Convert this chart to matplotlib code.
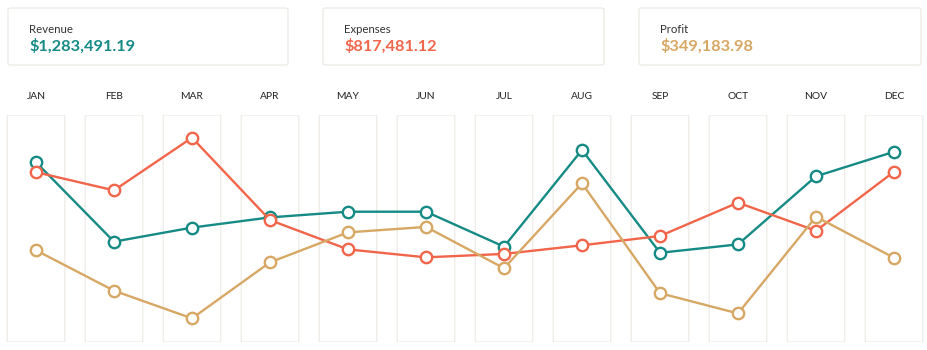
import matplotlib
matplotlib.use("Agg")
import matplotlib.pyplot as plt
from matplotlib.patches import FancyBboxPatch
import matplotlib.transforms as mtransforms

plt.rcParams['font.family'] = ['Lato', 'DejaVu Sans']

months = ["JAN", "FEB", "MAR", "APR", "MAY", "JUN", "JUL", "AUG", "SEP", "OCT", "NOV", "DEC"]
# relative position index (0 = bottom of panel, 100 = top)
revenue = [79.2, 44.2, 50.4, 54.9, 57.4, 57.4, 42.0, 84.6, 39.3, 43.0, 73.0, 83.8]
expenses = [74.8, 66.8, 90.0, 53.7, 40.8, 37.3, 38.8, 42.6, 46.7, 61.4, 49.0, 75.0]
profit = [40.4, 22.6, 10.4, 35.1, 48.3, 50.7, 32.5, 69.9, 21.5, 12.6, 55.2, 37.1]

card_labels = ["Revenue", "Expenses", "Profit"]
card_values = ["$1,283,491.19", "$817,481.12", "$349,183.98"]

TEAL = "#168a84"
RED = "#f1654a"
GOLD = "#d7a764"
colors = [TEAL, RED, GOLD]

W, H = 928, 350
fig = plt.figure(figsize=(W / 100, H / 100), dpi=100)
fig.patch.set_facecolor("white")

# cards (pixel coords -> figure fraction)
cards_px = [(8, 8, 280, 57), (323, 8, 281, 57), (639, 8, 282, 57)]
for (x, y, w, h), lab, val, col in zip(cards_px, card_labels, card_values, colors):
    p = FancyBboxPatch((x / W, 1 - (y + h) / H), w / W, h / H,
                       boxstyle="round,pad=0,rounding_size=0.004",
                       transform=fig.transFigure, facecolor="white",
                       edgecolor="#eeece8", linewidth=1.0)
    fig.patches.append(p)
    fig.text((x + 21) / W, 1 - 33 / H, lab, fontsize=8.2, color="#333333",
             ha="left", va="baseline")
    fig.text((x + 21) / W, 1 - 51 / H, val, fontsize=11.8, color=col,
             fontweight="bold", ha="left", va="baseline")

# main axes covering the column panels (pixel y 115..342)
ax = fig.add_axes([0, (H - 342) / H, 1, 227 / H])
x0, step = 36.0, 78.0
ax.set_xlim(-x0 / step, (W - x0) / step)
ax.set_ylim(0, 100)
ax.axis("off")

trans = mtransforms.blended_transform_factory(ax.transData, ax.transAxes)
box_w = 57.5 / step
for i, m in enumerate(months):
    r = FancyBboxPatch((i - box_w / 2, 0), box_w, 1,
                       boxstyle="round,pad=0,rounding_size=0.003",
                       transform=trans, facecolor="white",
                       edgecolor="#f1eee9", linewidth=1.0, zorder=0)
    ax.add_patch(r)
    ax.text(i, 1 + 18 / 227, m, transform=trans, ha="center", va="center",
            fontsize=7.4, color="#222222")

xs = list(range(len(months)))
for series, col, z in zip([revenue, expenses, profit], colors, [3, 4, 5]):
    ax.plot(xs, series, color=col, linewidth=1.7, marker="o", markersize=8.2,
            markerfacecolor="white", markeredgecolor=col, markeredgewidth=1.7,
            zorder=z, clip_on=False)

fig.savefig("out.png", dpi=100, facecolor="white")
